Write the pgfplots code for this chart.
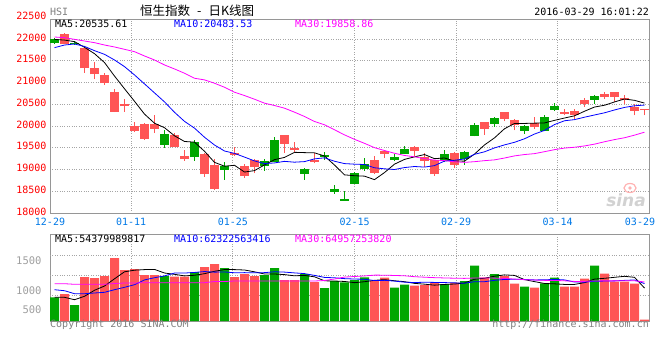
\documentclass[border=0pt]{standalone}
\usepackage{fontspec}
\setmainfont{DejaVu Sans}
\newfontfamily\mono{DejaVu Sans Mono}
\newfontfamily\cjk{Noto Sans CJK SC}
\usepackage{pgfplots}
\usepackage{pgfplotstable}
\pgfplotsset{compat=1.18}
\definecolor{cred}{RGB}{255,85,85}
\definecolor{cgreen}{RGB}{0,166,0}
\definecolor{maten}{RGB}{0,0,255}
\definecolor{mathirty}{RGB}{255,0,255}
\definecolor{xlab}{RGB}{0,120,230}
\definecolor{gridc}{RGB}{165,165,165}
\definecolor{framec}{RGB}{150,150,150}
\newcommand\tf{\mono\fontsize{10}{12}\selectfont}

% red (falling) candles: index, open, high, low, close, volume (panel units)
\pgfplotstableread{
i O H L C V
1 22115 22140 21880 21885 27
3 21800 21800 21230 21327 44
4 21330 21460 21075 21188 43
5 21170 21210 20945 20981 45
6 20784 20846 20320 20333 63
7 20510 20616 20326 20454 51
8 20010 20090 19860 19888 52
9 20045 20070 19683 19712 46
10 20040 20250 19836 19935 46
12 19800 19836 19510 19521 44.3
13 19317 19439 19200 19237 44.3
15 19355 19380 18835 18886 54
16 19100 19240 18537 18542 57
18 19370 19508 19310 19340 44
19 19090 19125 18812 18861 47
20 19210 19250 18919 19052 45
23 19790 19791 19378 19596 41
24 19500 19622 19400 19447 41
26 19225 19378 19141 19171 39
32 19217 19317 18896 18925 40
33 19431 19440 19263 19364 43.3
36 19515 19546 19309 19415 35.3
37 19278 19370 19064 19192 36
38 19210 19230 18858 18889 38.3
40 19378 19393 19041 19112 38.3
43 20081 20081 19798 19942 43.3
45 20318 20333 20104 20160 45
46 20135 20158 19898 20012 37.3
48 20058 20203 19928 19974 33.3
51 20318 20387 20242 20280 34.3
52 20341 20387 20158 20257 34.3
53 20601 20639 20440 20502 42.3
55 20746 20777 20616 20662 47.3
56 20777 20777 20563 20662 39.3
57 20639 20716 20502 20593 39.3
58 20448 20517 20242 20349 37.3
59 20394 20394 20242 20366 1.5
}\redT

% green (rising) candles
\pgfplotstableread{
i O H L C V
0 21916 22030 21885 22005 23.7
2 21882 21960 21870 21914 16
11 19570 19913 19500 19817 45
14 19280 19684 19200 19636 49
17 18995 19171 18766 19080 53
21 19087 19250 18973 19196 46
22 19165 19737 19164 19683 53
25 18905 19035 18760 19018 47
27 19294 19400 19225 19324 33
28 18483 18644 18437 18552 40
29 18285 18500 18285 18320 38.7
30 18674 18935 18674 18918 41
31 19018 19263 18973 19122 43.7
34 19217 19362 19202 19286 33.3
35 19362 19538 19347 19464 36.3
39 19194 19439 19171 19364 37
41 19248 19424 19110 19407 40
42 19775 20058 19760 20020 55.3
44 20043 20203 19982 20180 47
47 19890 20020 19821 20005 34.3
49 19890 20242 19875 20203 37.7
50 20372 20525 20341 20456 43.3
54 20601 20716 20502 20685 55.3
}\greenT

% moving averages (price and volume)
\pgfplotstableread{
i ma5 ma10 ma30 vma5 vma10 vma30
0 21990 21801 22046 23.7 31.3 37.3
1 21975 21862 22031 23.7 30.3 37.3
2 21940 21885 21992 21.3 27.3 36.7
3 21809 21830 21954 24.7 27.3 36.7
4 21662.8 21732 21916 30.74 28 36.7
5 21459 21648 21862 35 28.7 36.7
6 21148.6 21518 21817 42.2 31.3 37.5
7 20856.6 21365 21763 49.2 33.7 38
8 20568.8 21174 21709 50.8 36.3 38
9 20273.6 20968.2 21610 51.4 41.07 38.3
10 20064.4 20761.7 21518 51.6 43.3 38.3
11 19961.2 20554.9 21404 48 45.1 38.3
12 19774.6 20315.6 21312 46.66 47.93 38.3
13 19644.4 20106.6 21213 45.12 47.96 38.3
14 19629.2 19951.4 21098 45.72 48.56 38.3
15 19419.4 19741.9 21060 47.32 49.46 38.3
16 19164.4 19562.8 20983 49.72 48.86 39.5
17 19076.2 19425.4 20891 51.46 49.06 39.5
18 19096.8 19370.6 20777 51.4 48.26 40
19 18941.8 19285.5 20700 51 48.36 40
20 18975 19197.2 20616 49.2 48.26 40
21 19105.8 19135.1 20525 47 48.36 40
22 19226.4 19151.3 20471 47 49.23 40
23 19277.6 19187.2 20410 46.4 48.9 40
24 19394.8 19168.3 20318 45.2 48.1 40
25 19388 19181.5 20219 45.6 47.4 40
26 19383 19244.4 20104 44.2 45.6 40
27 19311.2 19268.8 20028 40.2 43.6 40.5
28 19102.4 19190.0 19913 40 43.2 42
29 18877 19135.9 19796.5 39.54 42.37 43.93
30 18857 19122.5 19693.8 38.34 41.97 44.51
31 18847.2 19115.1 19601.7 39.28 41.74 45.07
32 18767.4 19039.3 19502.1 40.68 40.44 45.87
33 18929.8 19016.1 19436.6 41.34 40.67 45.84
34 19123 19000.0 19373.2 40.26 39.9 45.52
35 19232.2 19044.6 19322.7 39.32 38.83 45.23
36 19290.8 19069.0 19292.1 37.64 38.46 44.31
37 19344.2 19055.8 19250.0 36.84 38.76 43.81
38 19249.2 19089.5 19216.7 35.84 38.59 43.35
39 19264.8 19193.9 19205.1 36.58 38.42 43.05
40 19194.4 19213.3 19177.7 36.98 38.15 42.79
41 19192.8 19241.8 19164.0 37.92 37.78 42.63
42 19354.2 19349.2 19179.9 41.78 39.31 42.99
43 19564.8 19407.0 19203.4 42.78 39.31 42.96
44 19727.4 19496.1 19221.5 44.78 40.68 42.89
45 19937 19565.7 19263.9 46.12 41.55 42.59
46 20058 19625.4 19312.9 45.58 41.75 41.94
47 20059.2 19706.7 19343.8 41.38 41.58 41.31
48 20065.6 19815.2 19364.9 39.38 41.08 40.96
49 20070.8 19899.1 19409.6 37.52 41.15 40.65
50 20130 20033.5 19456.4 37.18 41.65 40.59
51 20183.6 20120.8 19492.6 36.58 41.08 40.2
52 20234 20146.6 19511.7 36.58 38.98 39.58
53 20339.6 20202.6 19541.9 38.38 38.88 39.62
54 20436 20253.4 19583.2 41.9 39.71 40.1
55 20477.2 20303.6 19638.0 42.7 39.94 40.11
56 20553.6 20368.6 19687.7 43.7 40.14 40.12
57 20620.8 20427.4 19730.0 44.7 40.64 40.33
58 20590.2 20464.9 19789.9 43.7 41.04 40.24
59 20526.4 20481.2 19858.1 32.94 37.42 39.0
}\maT

\pgfplotsset{
  candle/.style n args={1}{draw=none, mark=none, no markers, forget plot,
    error bars/.cd, y dir=plus, y explicit, error mark=none,
    error bar style={draw=#1, solid, line width=1pt}},
  body/.style n args={1}{draw=none, mark=none, no markers, forget plot,
    error bars/.cd, y dir=plus, y explicit, error mark=none,
    error bar style={draw=#1, solid, line width=9pt}},
}

\begin{document}
\begin{tikzpicture}[x=1pt,y=1pt]
\path[use as bounding box] (0pt,0pt) rectangle (660pt,360pt);

% ---------- price panel ----------
\begin{axis}[
  at={(50pt,147pt)}, anchor=south west, scale only axis,
  width=599pt, height=194pt,
  xmin=-0.45, xmax=59.45, ymin=18000, ymax=22460,
  axis line style={draw=framec, line width=0.8pt},
  major tick length=0pt,
  xtick={-0.45,7.67,17.83,30.01,40.16,50.31,59.45},
  xticklabels={12-29,01-11,01-25,02-15,02-29,03-14,{\makebox[0pt]{\hspace*{-18pt}03-29}}},
  ytick={18000,18500,...,22000},
  xmajorgrids, ymajorgrids,
  grid style={gridc, dotted, line width=0.8pt},
  /pgf/number format/assume math mode=true,
  /pgf/number format/1000 sep={},
  scaled y ticks=false,
  yticklabel style={text=red, font=\tf, yshift=1.5pt},
  xticklabel style={text=xlab, font=\tf, yshift=-1.5pt},
]
% wicks
\addplot[candle=cred] table[x=i, y=L, y error plus expr={\thisrow{H}-\thisrow{L}}] {\redT};
\addplot[candle=cgreen] table[x=i, y=L, y error plus expr={\thisrow{H}-\thisrow{L}}] {\greenT};
% bodies
\addplot[body=cred] table[x=i, y=C, y error plus expr={\thisrow{O}-\thisrow{C}}] {\redT};
\addplot[body=cgreen] table[x=i, y=O, y error plus expr={\thisrow{C}-\thisrow{O}}] {\greenT};
% moving averages
\addplot[black, line width=0.8pt, mark=none] table[x=i, y=ma5] {\maT};
\addplot[maten, line width=0.8pt, mark=none] table[x=i, y=ma10] {\maT};
\addplot[mathirty, line width=0.8pt, mark=none] table[x=i, y=ma30] {\maT};
\end{axis}

% ---------- volume panel ----------
\begin{axis}[
  at={(50pt,39pt)}, anchor=south west, scale only axis,
  width=599pt, height=87pt,
  xmin=-0.45, xmax=59.45, ymin=0, ymax=87,
  axis line style={draw=framec, line width=0.8pt},
  major tick length=0pt,
  xtick={7.67,17.83,30.01,40.16,50.31}, xticklabels={},
  xmajorgrids,
  ytick={11,30.5,60.5}, yticklabels={500,1000,1500},
  extra y ticks={26,46,66}, extra y tick labels={},
  extra y tick style={grid=major},
  grid style={gridc, dotted, line width=0.8pt},
  yticklabel style={text=gray!75, font=\mono\fontsize{10.5}{12}\selectfont, xshift=-5pt},
]
\addplot[ybar, bar width=9pt, bar shift=0pt, fill=cred, draw=none] table[x=i, y=V] {\redT};
\addplot[ybar, bar width=9pt, bar shift=0pt, fill=cgreen, draw=none] table[x=i, y=V] {\greenT};
\addplot[black, line width=0.8pt, mark=none] table[x=i, y=vma5] {\maT};
\addplot[maten, line width=0.8pt, mark=none] table[x=i, y=vma10] {\maT};
\addplot[mathirty, line width=0.8pt, mark=none] table[x=i, y=vma30] {\maT};
\end{axis}

% ---------- texts ----------
\node[anchor=west, inner sep=0, text=gray, font=\tf] at (50pt,348pt) {HSI};
\node[anchor=west, inner sep=0, font=\cjk\fontsize{12.5}{14}\selectfont] at (140pt,349pt) {恒生指数\hspace{7pt}-\hspace{7pt}日K线图};
\node[anchor=east, inner sep=0, font=\tf] at (649pt,348pt) {2016-03-29 16:01:22};
\node[anchor=east, inner sep=0, text=red, font=\tf] at (46.7pt,344.5pt) {22500};

\node[anchor=west, inner sep=0, font=\tf] at (55pt,336.5pt) {MA5:20535.61};
\node[anchor=west, inner sep=0, text=maten, font=\tf] at (174pt,336.5pt) {MA10:20483.53};
\node[anchor=west, inner sep=0, text=mathirty, font=\tf] at (295pt,336.5pt) {MA30:19858.86};

\node[anchor=west, inner sep=0, font=\tf] at (55pt,121.5pt) {MA5:54379989817};
\node[anchor=west, inner sep=0, text=maten, font=\tf] at (174pt,121.5pt) {MA10:62322563416};
\node[anchor=west, inner sep=0, text=mathirty, font=\tf] at (295pt,121.5pt) {MA30:64957253820};

\node[anchor=west, inner sep=0, text=gray, font=\tf] at (50pt,35.5pt) {Copyright 2016 SINA.COM};
\node[anchor=east, inner sep=0, text=gray, font=\tf] at (649pt,35.5pt) {http://finance.sina.com.cn};

% watermark
\draw[red!30, line width=1.2pt] (630pt,172pt) ellipse (6pt and 4.5pt);
\fill[red!30] (630pt,172pt) circle (1.8pt);
\node[inner sep=0, text=gray!35, font=\bfseries\itshape\fontsize{17}{17}\selectfont] at (626pt,160pt) {sina};
\end{tikzpicture}
\end{document}
